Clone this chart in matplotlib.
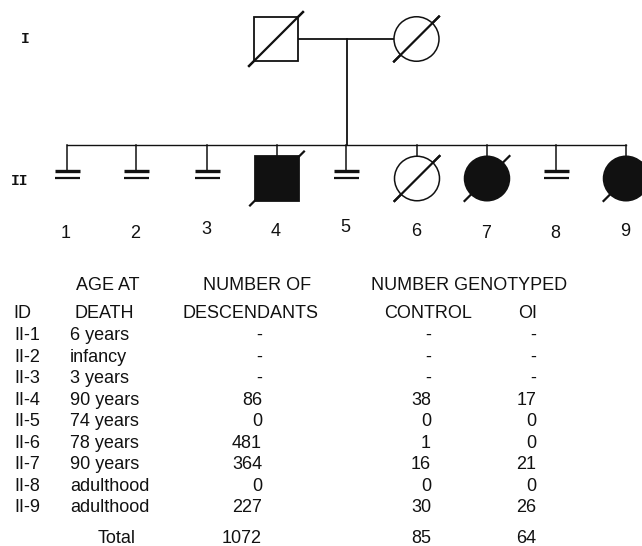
import matplotlib
matplotlib.use("Agg")
import matplotlib.pyplot as plt
from matplotlib.patches import Rectangle, Ellipse

# ---------------- data ----------------
gen_labels = ["I", "II"]
# generation I
gen1_sex = ["M", "F"]
gen1_deceased = [True, True]
gen1_affected = [False, False]
# generation II
gen2_ids = ["1", "2", "3", "4", "5", "6", "7", "8", "9"]
gen2_sex = ["N", "N", "N", "M", "N", "F", "F", "N", "F"]      # N = no offspring mark
gen2_affected = [False, False, False, True, False, False, True, False, True]
gen2_deceased = [False, False, False, True, False, True, True, False, True]

# table
hdr1 = ["AGE AT", "NUMBER OF", "NUMBER GENOTYPED"]
hdr2 = ["ID", "DEATH", "DESCENDANTS", "CONTROL", "OI"]
row_ids = ["II-1", "II-2", "II-3", "II-4", "II-5", "II-6", "II-7", "II-8", "II-9"]
age_at_death = ["6 years", "infancy", "3 years", "90 years", "74 years",
                "78 years", "90 years", "adulthood", "adulthood"]
descendants = ["-", "-", "-", "86", "0", "481", "364", "0", "227"]
genotyped_control = ["-", "-", "-", "38", "0", "1", "16", "0", "30"]
genotyped_oi = ["-", "-", "-", "17", "0", "0", "21", "0", "26"]
total_label = "Total"
totals = ["1072", "85", "64"]

# ---------------- layout (pixel coordinates) ----------------
W, H = 642, 546
fig = plt.figure(figsize=(W / 100, H / 100), dpi=100)
ax = fig.add_axes([0, 0, 1, 1])
ax.set_xlim(0, W)
ax.set_ylim(H, 0)
ax.axis("off")

INK = "#111111"
SANS = "Liberation Sans"
FS = 13.0

g1_x = [276, 416.5]
g1_y = 39
g2_x = [67, 136, 207, 277, 346, 417, 487, 556, 626]
g2_y = 178.5
sib_y = 145
size = 44.5
lab_y = [233, 233, 230, 232, 228, 232, 233, 233, 232]


def draw_symbol(x, y, sex, affected, deceased):
    fc = INK if affected else "white"
    h = size / 2
    ext = 5.5 if sex == "M" else 1.0
    if deceased:
        ax.plot([x - h - ext, x + h + ext], [y + h + ext, y - h - ext],
                color=INK, lw=1.6, zorder=2, solid_capstyle="butt")
    if sex == "M":
        p = Rectangle((x - h, y - h), size, size, fc=fc, ec=INK, lw=1.3, zorder=3)
    else:
        p = Ellipse((x, y), size + 0.5, size, fc=fc, ec=INK, lw=1.1, zorder=3)
    ax.add_patch(p)
    if deceased and not affected:
        ax.plot([x - h - ext, x + h + ext], [y + h + ext, y - h - ext],
                color=INK, lw=1.6, zorder=4, solid_capstyle="butt")


# generation labels
ax.text(25, g1_y, gen_labels[0], family="Liberation Mono", weight="bold",
        fontsize=10.5, ha="center", va="center", color=INK)
ax.text(20, 181, gen_labels[1], family="Liberation Mono", weight="bold",
        fontsize=10.5, ha="center", va="center", color=INK)

# generation I
for x, s, a, d in zip(g1_x, gen1_sex, gen1_affected, gen1_deceased):
    draw_symbol(x, g1_y, s, a, d)
ax.plot([g1_x[0] + size / 2, g1_x[1] - size / 2], [g1_y, g1_y], color=INK, lw=1.3, zorder=1)
mid = 346.5
ax.plot([mid, mid], [g1_y, sib_y], color=INK, lw=1.3, zorder=1)

# sibship line
ax.plot([g2_x[0], g2_x[-1]], [sib_y, sib_y], color=INK, lw=1.0, zorder=1)

for i, (x, s, a, d) in enumerate(zip(g2_x, gen2_sex, gen2_affected, gen2_deceased)):
    if s == "N":
        ax.plot([x, x], [sib_y, 171], color=INK, lw=1.1, zorder=1)
        ax.plot([x - 12.5, x + 12.5], [171, 171], color=INK, lw=2.4, solid_capstyle="butt")
        ax.plot([x - 12.5, x + 12.5], [177.5, 177.5], color=INK, lw=1.6, solid_capstyle="butt")
    else:
        ax.plot([x, x], [sib_y, g2_y - size / 2], color=INK, lw=1.1, zorder=1)
        draw_symbol(x, g2_y, s, a, d)
    ax.text(x - 1, lab_y[i], gen2_ids[i], family=SANS, fontsize=FS,
            ha="center", va="center", color=INK)

# ---------------- table ----------------
def t(x, yc, s, ha):
    ax.text(x, yc + 6.3, s, family=SANS, fontsize=FS, ha=ha, va="baseline", color=INK)

t(108, 284, hdr1[0], "center")
t(257.5, 284, hdr1[1], "center")
t(469, 284, hdr1[2], "center")

t(13, 312, hdr2[0], "left")
t(104, 312, hdr2[1], "center")
t(250.5, 312, hdr2[2], "center")
t(428.5, 312, hdr2[3], "center")
t(528, 312, hdr2[4], "center")

row_y = [334, 355.5, 377, 398.5, 420, 441.5, 463, 484.5, 506]
x_id, x_age, x_desc, x_ctrl, x_oi = 14, 70, 262, 431, 536
for yc, a, b, c, d, e in zip(row_y, row_ids, age_at_death, descendants,
                             genotyped_control, genotyped_oi):
    t(x_id, yc, a, "left")
    t(x_age, yc, b, "left")
    t(x_desc, yc, c, "right")
    t(x_ctrl, yc, d, "right")
    t(x_oi, yc, e, "right")

t(117, 537, total_label, "center")
t(x_desc, 537, totals[0], "right")
t(x_ctrl, 537, totals[1], "right")
t(x_oi, 537, totals[2], "right")

fig.savefig("out.png", dpi=100, facecolor="white")
